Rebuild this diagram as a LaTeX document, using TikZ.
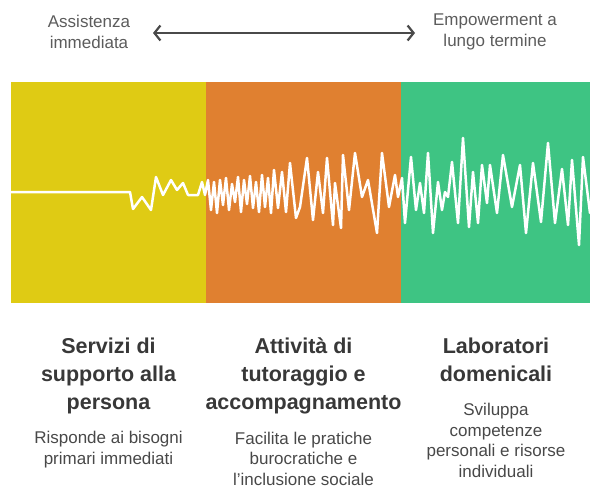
\documentclass[tikz,border=0pt]{standalone}
\usepackage{fontspec}
\setmainfont{Liberation Sans}
\usepackage{xcolor}
\usetikzlibrary{arrows.meta,positioning}
\definecolor{bandyellow}{HTML}{DFCB14}
\definecolor{bandorange}{HTML}{E08030}
\definecolor{bandgreen}{HTML}{3EC483}
\definecolor{titlegray}{HTML}{383838}
\definecolor{descgray}{HTML}{484848}
\definecolor{axisgray}{HTML}{4A4A4A}

\begin{document}
\begin{tikzpicture}[x=1pt,y=-1pt,
    ends/.style={font=\fontsize{17}{21.5}\selectfont,text=axisgray!90,align=center,inner sep=0pt},
    title/.style={font=\bfseries\fontsize{21.5}{28}\selectfont,text=titlegray,align=center,inner sep=0pt,anchor=north,
        execute at begin node=\strut,execute at end node=\strut},
    desc/.style={font=\fontsize{17}{20.5}\selectfont,text=descgray,align=center,inner sep=0pt,
        execute at begin node=\strut},
    axis/.style={draw=axisgray,line width=2.2pt,{Straight Barb[length=6pt,width=15pt]}-{Straight Barb[length=6pt,width=15pt]}},
    wave/.style={draw=white,line width=2.5pt,line join=round,line cap=round}]
    \useasboundingbox (0,0) rectangle (590,487);
    \node[ends] (near) at (89,32) {Assistenza\\immediata};
    \node[ends] (far) at (495,32) {Empowerment a\\lungo termine};
    \coordinate (nearTip) at (153,33);
    \coordinate (farTip) at (415,33);
    \draw[axis] (nearTip) -- (farTip);
    \fill[bandyellow] (11,82) rectangle (206,303);
    \fill[bandorange] (206,82) rectangle (401,303);
    \fill[bandgreen] (401,82) rectangle (590,303);
    \draw[wave] plot coordinates {(11,192) (130,192) (133,209) (142,197) (151,210) (156,177) (163,195)
        (171,180) (177,190) (183,183) (188,195) (198,195) (202,182) (205,195) (208,180) (211,210)
        (214,182) (217,213) (220,180) (223,205) (226,178) (229,210) (232,184) (235,202) (238,177)
        (241,212) (244,180) (247,204) (250,176) (253,208) (256,182) (259,212) (262,175) (265,207)
        (268,178) (271,213) (274,170) (278,208) (282,172) (286,212) (290,163) (296,218) (300,207)
        (307,158) (313,220) (318,172) (323,213) (327,158) (333,225) (335,183) (341,228) (343,155)
        (349,210) (355,153) (362,197) (368,180) (377,233) (382,153) (389,207) (395,175) (398,197)
        (402,178) (405,223) (411,157) (416,210) (420,183) (424,213) (428,153) (433,233) (438,182)
        (442,210) (445,192) (448,197) (452,162) (458,223) (463,138) (469,227) (473,172) (478,223)
        (482,165) (487,203) (490,165) (497,213) (503,155) (512,207) (520,165) (526,233) (533,163)
        (541,222) (548,143) (555,223) (562,169) (568,225) (572,160) (579,245) (583,157) (590,213)};
    \node[title] (servizi) at (108.5,338) {Servizi di\\supporto alla\\persona};
    \node[title] (tutor) at (303.5,338) {Attività di\\tutoraggio e\\accompagnamento};
    \node[title] (lab) at (496,338) {Laboratori\\domenicali};
    \node[desc,below=13pt of servizi] (serviziDesc) {Risponde ai bisogni\\primari immediati};
    \node[desc,below=13pt of tutor] (tutorDesc) {Facilita le pratiche\\burocratiche e\\l'inclusione sociale};
    \node[desc,below=13pt of lab] (labDesc) {Sviluppa\\competenze\\personali e risorse\\individuali};
\end{tikzpicture}
\end{document}
